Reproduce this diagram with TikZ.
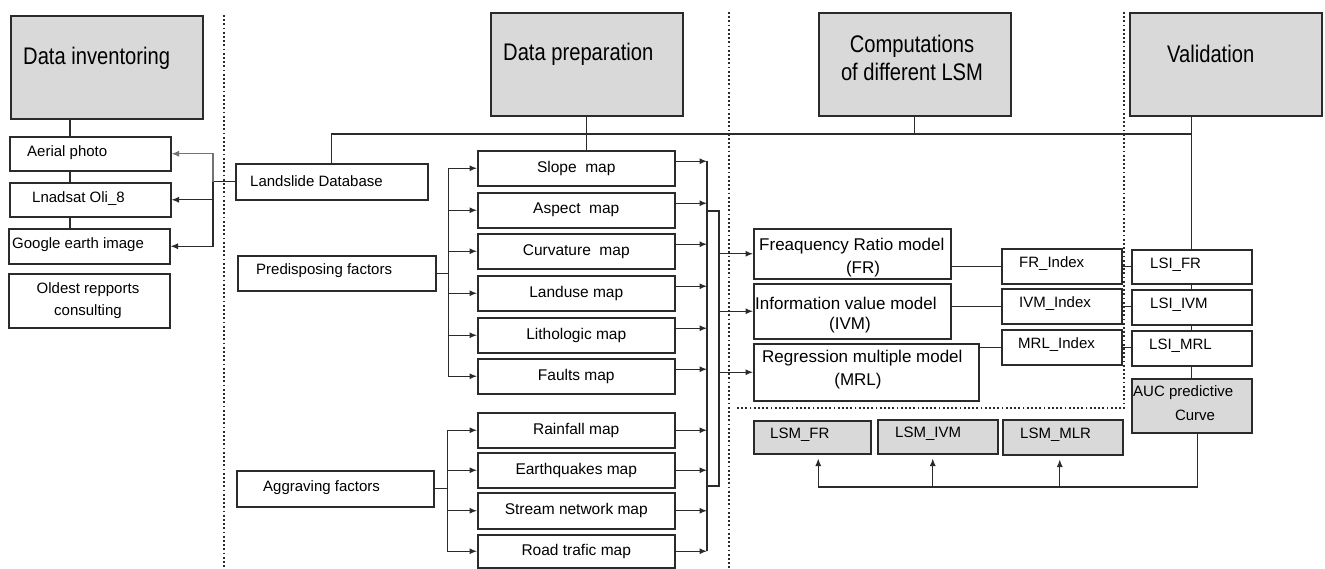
\documentclass[tikz,border=0pt]{standalone}
\usepackage{fontspec}
\setmainfont{Liberation Sans}
\newfontfamily\headfont{Liberation Sans}[FakeStretch=0.84]
\usetikzlibrary{arrows.meta,calc}
\definecolor{boxgray}{HTML}{D9D9D9}
\definecolor{ln}{HTML}{2B2B2B}
\begin{document}
\begin{tikzpicture}[x=1pt,y=-1pt,
  box/.style={draw=ln, line width=1.5pt, fill=white, inner sep=0pt, anchor=north west, font=\fontsize{15.5}{18}\selectfont},
  gbox/.style={box, fill=boxgray},
  txt/.style={font=\fontsize{15}{22}\selectfont, inner sep=0pt},
  mtxt/.style={font=\fontsize{17}{22}\selectfont, inner sep=0pt},
  head/.style={font=\headfont\fontsize{24}{28}\selectfont, inner sep=0pt, align=center},
  conn/.style={draw=ln, line width=1.1pt},
  arr/.style={conn, -{Latex[length=7.5pt,width=6pt]}},
  dotline/.style={draw=ln, line width=1.5pt, dash pattern=on 1.8pt off 2.4pt}]
\useasboundingbox (0,0) rectangle (1325,568);

% dotted separators
\draw[dotline] (224,15) -- (224,568);
\draw[dotline] (729,12) -- (729,568);
\draw[dotline] (1124,12) -- (1124,408) -- (735,408);

% header boxes
\node[gbox, minimum width=192, minimum height=103] (inv) at (10,15) {};
\node[gbox, minimum width=192, minimum height=103] (prep) at (490,12) {};
\node[gbox, minimum width=192, minimum height=103] (comp) at (818,12) {};
\node[gbox, minimum width=192, minimum height=103] (val) at (1129,12) {};
\node[head, anchor=base west] (tinv) at (23,64) {Data inventoring};
\node[head, anchor=base west] (tprep) at (503,60) {Data preparation};
\node[head] (tcomp) at (912,58) {Computations\\of different LSM};
\node[head, anchor=base west] (tval) at (1167,62) {Validation};

% inventory boxes
\node[box, minimum width=161, minimum height=34] (aer) at (9,136) {};
\node[box, minimum width=161, minimum height=34] (lnd) at (9,182) {};
\node[box, minimum width=161, minimum height=35] (goo) at (8,228) {};
\node[box, minimum width=161, minimum height=54] (old) at (8,273) {};
\node[txt, anchor=west] (taer) at (27,153) {Aerial photo};
\node[txt, anchor=west] (tlnd) at (32,199) {Lnadsat Oli\_8};
\node[txt, anchor=west] (tgoo) at (12,245) {Google earth image};
\node[txt, align=center] (told) at (88,301) {Oldest repports\\consulting};

% preparation boxes
\node[box, minimum width=192, minimum height=36] (lsd) at (235,163) {};
\node[box, minimum width=198, minimum height=35] (pre) at (237,255) {};
\node[box, minimum width=197, minimum height=36] (agg) at (236,470) {};
\node[txt, anchor=west] (tlsd) at (250,181) {Landslide Database};
\node[txt, anchor=west] (tpre) at (256,271) {Predisposing factors};
\node[txt, anchor=west] (tagg) at (263,488) {Aggraving factors};

\node[box, minimum width=197, minimum height=35] (slope) at (477,150) {Slope\ \ map};
\node[box, minimum width=197, minimum height=35] (aspect) at (477,192) {Aspect\ \ map};
\node[box, minimum width=197, minimum height=35] (curv) at (477,233) {Curvature\ \ map};
\node[box, minimum width=197, minimum height=35] (landuse) at (477,275) {Landuse map};
\node[box, minimum width=197, minimum height=35] (litho) at (477,317) {Lithologic map};
\node[box, minimum width=197, minimum height=35] (faults) at (477,358) {Faults map};
\node[box, minimum width=197, minimum height=35] (rain) at (477,412) {Rainfall map};
\node[box, minimum width=197, minimum height=35] (earth) at (477,452) {Earthquakes map};
\node[box, minimum width=197, minimum height=36] (stream) at (477,492) {Stream network map};
\node[box, minimum width=197, minimum height=33] (road) at (477,534) {Road trafic map};

% models
\node[box, minimum width=197, minimum height=50] (frm) at (753,228) {};
\node[box, minimum width=197, minimum height=55] (ivmm) at (753,283) {};
\node[box, minimum width=225, minimum height=57] (mrlm) at (753,343) {};
\node[mtxt, anchor=west] (tfrm) at (759,246) {Freaquency Ratio model};
\node[mtxt] (tfrm2) at (863,269) {(FR)};
\node[mtxt, anchor=west] (tivm) at (755,303) {Information value model};
\node[mtxt] (tivm2) at (850,325) {(IVM)};
\node[mtxt, anchor=west] (tmrl) at (762,358) {Regression multiple model};
\node[mtxt] (tmrl2) at (858,381) {(MRL)};

\node[box, minimum width=120, minimum height=35] (fri) at (1001,248) {};
\node[box, minimum width=120, minimum height=35] (ivi) at (1001,288) {};
\node[box, minimum width=120, minimum height=35] (mri) at (1001,329) {};
\node[txt, anchor=west] (tfri) at (1019,264) {FR\_Index};
\node[txt, anchor=west] (tivi) at (1019,304) {IVM\_Index};
\node[txt, anchor=west] (tmri) at (1018,345) {MRL\_Index};

\node[gbox, minimum width=117, minimum height=33] (lsmfr) at (753,420) {};
\node[gbox, minimum width=120, minimum height=34] (lsmivm) at (877,419) {};
\node[gbox, minimum width=120, minimum height=35] (lsmmlr) at (1002,419) {};
\node[txt, anchor=west] (tlsmfr) at (770,435) {LSM\_FR};
\node[txt, anchor=west] (tlsmivm) at (895,434) {LSM\_IVM};
\node[txt, anchor=west] (tlsmmlr) at (1020,435) {LSM\_MLR};

% validation
\node[box, minimum width=120, minimum height=34] (lsifr) at (1131,249) {};
\node[box, minimum width=120, minimum height=35] (lsiivm) at (1131,289) {};
\node[box, minimum width=120, minimum height=35] (lsimrl) at (1131,330) {};
\node[gbox, minimum width=120, minimum height=54] (auc) at (1131,378) {};
\node[txt, anchor=west] (tlsifr) at (1150,265) {LSI\_FR};
\node[txt, anchor=west] (tlsiivm) at (1150,305) {LSI\_IVM};
\node[txt, anchor=west] (tlsimrl) at (1149,346) {LSI\_MRL};
\node[txt, anchor=west] (tauc) at (1133,393) {AUC predictive};
\node[txt] (tauc2) at (1195,415) {Curve};

% ---- connectors ----
\coordinate (c70) at (70,0);
\draw[conn] (inv.south -| c70) -- (aer.north -| c70);
\draw[conn] (aer.south -| c70) -- (lnd.north -| c70);
\draw[conn] (lnd.south -| c70) -- (goo.north -| c70);

\coordinate (br1) at ([xshift=-22]lsd.west);
\draw[conn] (lsd.west) -- (br1);
\draw[arr, draw=black!55] (br1) |- (aer.east);
\draw[arr] (br1) |- (lnd.east);
\draw[arr] (br1) |- (goo.east);

\coordinate (busR) at (lsifr.north |- 0,134);
\draw[conn] (lsd.north) |- (busR);
\draw[conn] (val.south -| lsifr.north) -- (lsifr.north);
\draw[conn] (prep.south) -- (prep.south |- slope.north);
\draw[conn] (comp.south) -- (comp.south |- busR);

\coordinate (pb) at ([xshift=12]pre.east);
\draw[conn] (pre.east) -- (pb);
\foreach \m in {slope,aspect,curv,landuse,litho,faults}
  \draw[arr] (pb) |- (\m.west);
\coordinate (ab) at ([xshift=13]agg.east);
\draw[conn] (agg.east) -- (ab);
\foreach \m in {rain,earth,stream,road}
  \draw[arr] (ab) |- (\m.west);

\coordinate (rb) at (707,0);
\coordinate (rb2) at (719,0);
\foreach \m in {slope,aspect,curv,landuse,litho,faults}{
  \coordinate (o\m) at ([yshift=7]\m.east);
  \draw[arr] (o\m) -- (o\m -| rb);
}
\foreach \m in {rain,earth,stream,road}
  \draw[arr] (\m.east) -- (\m.east -| rb);
\draw[conn] (oslope -| rb) -- (road.east -| rb);
\draw[conn] (rb |- 0,211) -| (rb2 |- 0,486) -- (rb |- 0,486);
\draw[arr] (rb2 |- frm.west) -- (frm.west);
\draw[arr] (rb2 |- ivmm.west) -- (ivmm.west);
\draw[arr] (rb2 |- mrlm.west) -- (mrlm.west);

\draw[conn] (fri.west -| frm.east) -- (fri.west);
\draw[conn] (ivi.west -| ivmm.east) -- (ivi.west);
\draw[conn] (mri.west -| mrlm.east) -- (mri.west);
\draw[conn] (fri.east) -- (fri.east -| lsifr.west);
\draw[conn] (ivi.east) -- (ivi.east -| lsiivm.west);
\draw[conn] (mri.east) -- (mri.east -| lsimrl.west);

\draw[conn] (lsifr.south) -- (lsiivm.north);
\draw[conn] (lsiivm.south) -- (lsimrl.north);
\draw[conn] (lsimrl.south) -- (auc.north);

\coordinate (bot) at (0,487);
\coordinate (aucb) at ([xshift=6]auc.south);
\coordinate (a1) at ([xshift=6]lsmfr.south);
\coordinate (a2) at ([xshift=-5]lsmivm.south);
\coordinate (a3) at ([xshift=-3]lsmmlr.south);
\draw[conn] (aucb) |- (a1 |- bot);
\draw[arr] (a1 |- bot) -- ([yshift=-4]a1);
\draw[arr] (a2 |- bot) -- ([yshift=-4]a2);
\draw[arr] (a3 |- bot) -- ([yshift=-4]a3);
\end{tikzpicture}
\end{document}
